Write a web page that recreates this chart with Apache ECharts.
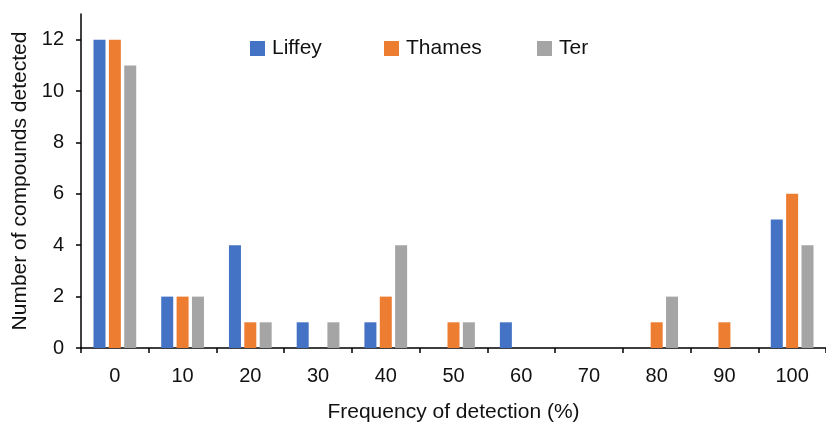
<!DOCTYPE html>
<html>
<head>
<meta charset="utf-8">
<script src="https://cdn.jsdelivr.net/npm/echarts@6/dist/echarts.min.js"></script>
<style>html,body{margin:0;padding:0;background:#fff;}#c{width:826px;height:428px;}</style>
</head>
<body>
<div id="c"></div>
<script>
const categories = ['0','10','20','30','40','50','60','70','80','90','100'];
const liffey = [12,2,4,1,1,0,1,0,0,0,5];
const thames = [12,2,1,0,2,1,0,0,1,1,6];
const ter    = [11,2,1,1,4,1,0,0,2,0,4];
const yTicks = [0,2,4,6,8,10,12];
const seriesNames = ['Liffey','Thames','Ter'];
const colors = ['#4472C4','#ED7D31','#A5A5A5'];

const chart = echarts.init(document.getElementById('c'));
const font = 'Liberation Sans, Arial, sans-serif';
const legendLefts = [250, 384, 537];
const mkSeries = (name, data, color) => ({
  name, type: 'bar', data, barWidth: 12, barGap: '28%',
  itemStyle: { color }
});
chart.setOption({
  animation: false,
  color: colors,
  textStyle: { fontFamily: font, color: '#111' },
  legend: seriesNames.map((n, i) => ({
    data: [n], left: legendLefts[i], top: 38, padding: 0,
    itemWidth: 15, itemHeight: 15, icon: 'rect',
    textStyle: { fontFamily: font, fontSize: 21, color: '#111', padding: [0,0,0,2] }
  })),
  grid: { left: 81, right: -9, top: 14, bottom: 74 },
  xAxis: {
    type: 'category', data: categories,
    axisLine: { lineStyle: { color: '#000', width: 1.5 } },
    axisTick: { show: true, length: 5, lineStyle: { color: '#000', width: 1.5 } },
    axisLabel: { fontFamily: font, fontSize: 20, color: '#111', margin: 18 },
    name: 'Frequency of detection (%)', nameLocation: 'middle', nameGap: 54,
    nameTextStyle: { fontFamily: font, fontSize: 21, color: '#111' }
  },
  yAxis: {
    type: 'value', min: 0, max: 13, interval: 2,
    splitLine: { show: false },
    axisLine: { show: true, lineStyle: { color: '#000', width: 1.5 } },
    axisTick: { show: true, length: 5, customValues: yTicks, lineStyle: { color: '#000', width: 1.5 } },
    axisLabel: { fontFamily: font, fontSize: 20, color: '#111', margin: 17, customValues: yTicks },
    name: 'Number of compounds detected', nameLocation: 'middle', nameGap: 46,
    nameTextStyle: { fontFamily: font, fontSize: 21, color: '#111' }
  },
  series: [
    mkSeries(seriesNames[0], liffey, colors[0]),
    mkSeries(seriesNames[1], thames, colors[1]),
    mkSeries(seriesNames[2], ter, colors[2])
  ]
});
</script>
</body>
</html>
